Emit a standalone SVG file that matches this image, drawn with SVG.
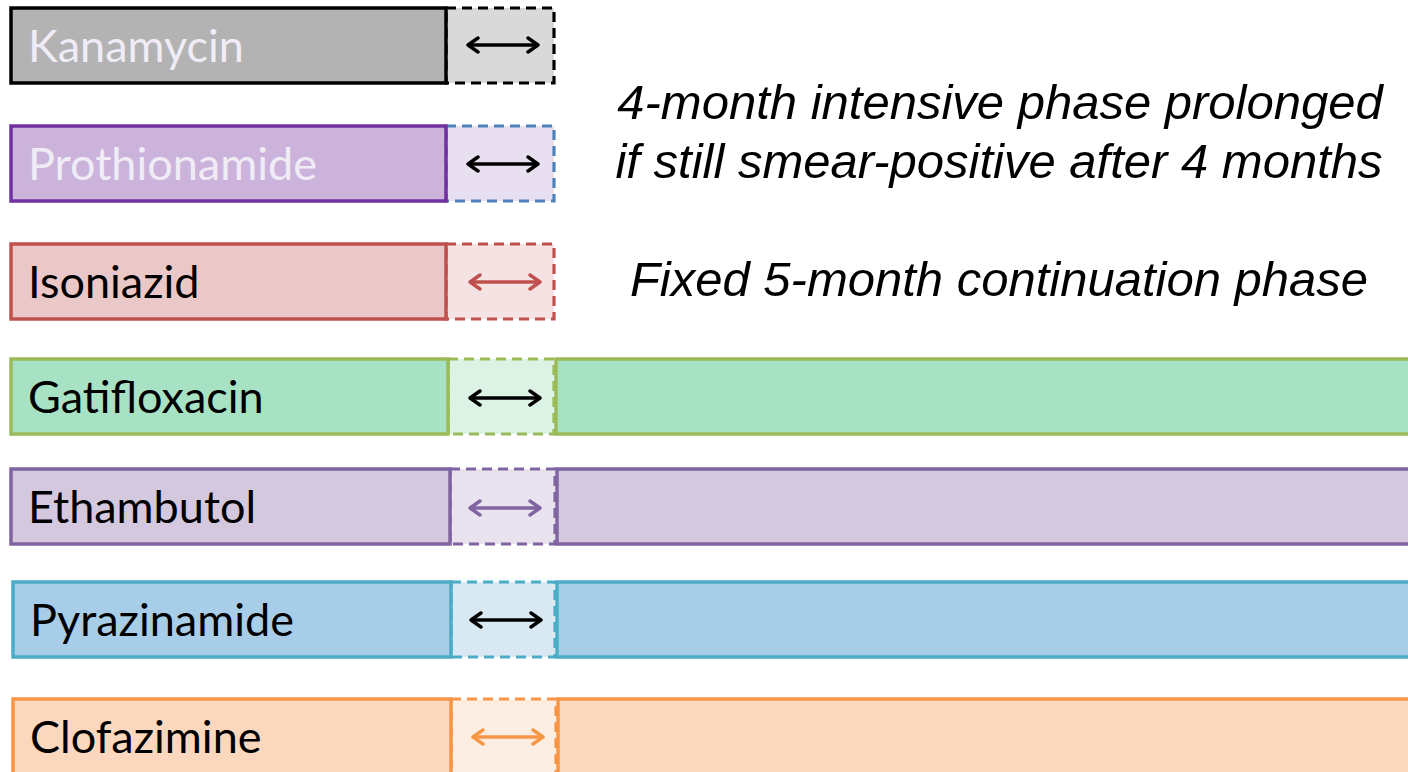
<svg xmlns="http://www.w3.org/2000/svg" width="1408" height="772" viewBox="0 0 1408 772">
  <style>
    .bar { stroke-width: 3.5; }
    .ext { stroke-width: 3.2; stroke-dasharray: 10 6; }
    .lbl { font-family: Lato, "Open Sans", sans-serif; font-size: 45px; fill: #000; }
    .lbl.light { fill: #f0ecf6; }
    .note { font-family: "Liberation Sans", Arial, sans-serif; font-style: italic; font-size: 49px; fill: #000; text-anchor: middle; }
    .arr { stroke-width: 3.4; fill: none; }
    .chev { fill: none; stroke-width: 3.4; stroke-linecap: round; stroke-linejoin: round; }
  </style>
  <defs>
    <marker id="headK" viewBox="0 0 14 18" refX="12" refY="9" markerWidth="14" markerHeight="18" markerUnits="userSpaceOnUse" orient="auto-start-reverse">
      <path class="chev" d="M2,2 L12,9 L2,16" stroke="#000"/>
    </marker>
    <marker id="headR" viewBox="0 0 14 18" refX="12" refY="9" markerWidth="14" markerHeight="18" markerUnits="userSpaceOnUse" orient="auto-start-reverse">
      <path class="chev" d="M2,2 L12,9 L2,16" stroke="#c0504d"/>
    </marker>
    <marker id="headP" viewBox="0 0 14 18" refX="12" refY="9" markerWidth="14" markerHeight="18" markerUnits="userSpaceOnUse" orient="auto-start-reverse">
      <path class="chev" d="M2,2 L12,9 L2,16" stroke="#8064a2"/>
    </marker>
    <marker id="headO" viewBox="0 0 14 18" refX="12" refY="9" markerWidth="14" markerHeight="18" markerUnits="userSpaceOnUse" orient="auto-start-reverse">
      <path class="chev" d="M2,2 L12,9 L2,16" stroke="#f79646"/>
    </marker>
  </defs>

  <rect width="1408" height="772" fill="#fff"/>

  <!-- Kanamycin -->
  <g id="kanamycin">
    <rect class="ext" x="446" y="8" width="108" height="75" fill="#d9d9d9" stroke="#000"/>
    <rect class="bar" x="11" y="8" width="435" height="75" fill="#b3b3b3" stroke="#000"/>
    <text class="lbl light" x="28" y="62">Kanamycin</text>
    <line class="arr" x1="468" y1="45" x2="538" y2="45" stroke="#000" marker-start="url(#headK)" marker-end="url(#headK)"/>
  </g>

  <!-- Prothionamide -->
  <g id="prothionamide">
    <rect class="ext" x="446" y="126" width="108" height="75" fill="#e8dff0" stroke="#4f81bd"/>
    <rect class="bar" x="11" y="126" width="435" height="75" fill="#ccb3dc" stroke="#7030a0"/>
    <text class="lbl light" x="28" y="180">Prothionamide</text>
    <line class="arr" x1="468" y1="164" x2="538" y2="164" stroke="#000" marker-start="url(#headK)" marker-end="url(#headK)"/>
  </g>

  <!-- Isoniazid -->
  <g id="isoniazid">
    <rect class="ext" x="446" y="244" width="108" height="75" fill="#f5e3e3" stroke="#c0504d"/>
    <rect class="bar" x="11" y="244" width="435" height="75" fill="#ebc8c8" stroke="#c0504d"/>
    <text class="lbl" x="28" y="298">Isoniazid</text>
    <line class="arr" x1="470" y1="282" x2="540" y2="282" stroke="#c0504d" marker-start="url(#headR)" marker-end="url(#headR)"/>
  </g>

  <!-- Gatifloxacin -->
  <g id="gatifloxacin">
    <rect class="bar" x="556" y="359" width="870" height="75" fill="#a8e2c4" stroke="#9bbb59"/>
    <rect class="ext" x="448" y="359" width="106" height="75" fill="#dbf2e4" stroke="#9bbb59"/>
    <rect class="bar" x="11" y="359" width="437" height="75" fill="#a8e2c4" stroke="#9bbb59"/>
    <text class="lbl" x="28" y="413">Gatifloxacin</text>
    <line class="arr" x1="470" y1="398" x2="540" y2="398" stroke="#000" marker-start="url(#headK)" marker-end="url(#headK)"/>
  </g>

  <!-- Ethambutol -->
  <g id="ethambutol">
    <rect class="bar" x="557" y="469" width="870" height="75" fill="#d3c8de" stroke="#8064a2"/>
    <rect class="ext" x="450" y="469" width="105" height="75" fill="#e9e3f0" stroke="#8064a2"/>
    <rect class="bar" x="11" y="469" width="439" height="75" fill="#d3c8de" stroke="#8064a2"/>
    <text class="lbl" x="28" y="523">Ethambutol</text>
    <line class="arr" x1="470" y1="508" x2="540" y2="508" stroke="#8064a2" marker-start="url(#headP)" marker-end="url(#headP)"/>
  </g>

  <!-- Pyrazinamide -->
  <g id="pyrazinamide">
    <rect class="bar" x="557" y="582" width="870" height="75" fill="#a8cde8" stroke="#4bacc6"/>
    <rect class="ext" x="451" y="582" width="104" height="75" fill="#d8e9f4" stroke="#4bacc6"/>
    <rect class="bar" x="13" y="582" width="438" height="75" fill="#a8cde8" stroke="#4bacc6"/>
    <text class="lbl" x="30" y="636">Pyrazinamide</text>
    <line class="arr" x1="471" y1="620" x2="541" y2="620" stroke="#000" marker-start="url(#headK)" marker-end="url(#headK)"/>
  </g>

  <!-- Clofazimine -->
  <g id="clofazimine">
    <rect class="bar" x="558" y="699" width="870" height="90" fill="#fbd8bd" stroke="#f79646"/>
    <rect class="ext" x="451" y="699" width="105" height="90" fill="#fdeee3" stroke="#f79646"/>
    <rect class="bar" x="13" y="699" width="438" height="90" fill="#fbd8bd" stroke="#f79646"/>
    <text class="lbl" x="30" y="753">Clofazimine</text>
    <line class="arr" x1="473" y1="737" x2="543" y2="737" stroke="#f79646" marker-start="url(#headO)" marker-end="url(#headO)"/>
  </g>

  <!-- Phase notes -->
  <g id="notes">
    <text class="note" x="1000" y="119">4-month intensive phase prolonged</text>
    <text class="note" x="999" y="178">if still smear-positive after 4 months</text>
    <text class="note" x="999" y="296">Fixed 5-month continuation phase</text>
  </g>
</svg>
